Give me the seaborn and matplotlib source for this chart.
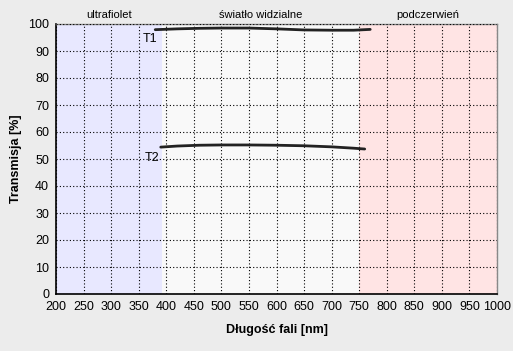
import matplotlib
matplotlib.use("Agg")
import matplotlib.pyplot as plt
import seaborn as sns
import pandas as pd

# Data
t1_wavelength = [380, 420, 460, 500, 550, 600, 650, 700, 740, 770]
t1_values = [97.9, 98.2, 98.4, 98.5, 98.5, 98.2, 97.8, 97.7, 97.7, 98.0]
t2_wavelength = [390, 420, 460, 500, 550, 600, 650, 700, 740, 760]
t2_values = [54.4, 54.8, 55.1, 55.2, 55.2, 55.1, 54.9, 54.5, 54.0, 53.7]
region_names = ["ultrafiolet", "światło widzialne", "podczerwień"]
region_bounds = [(200, 393), (393, 750), (750, 1000)]
region_colors = ["#E8E8FF", "#F9F9F9", "#FFE4E4"]
x_ticks = list(range(200, 1001, 50))
y_ticks = list(range(0, 101, 10))

sns.set_style("white")
plt.rcParams["font.family"] = ["Liberation Sans", "DejaVu Sans"]
plt.rcParams["text.color"] = "black"
plt.rcParams["axes.labelcolor"] = "black"
plt.rcParams["xtick.color"] = "black"
plt.rcParams["ytick.color"] = "black"

fig = plt.figure(figsize=(5.13, 3.51), dpi=100, facecolor="#ECECEC")
ax = fig.add_axes([56/513, 57/351, 441/513, 270/351])
ax.set_facecolor("#F9F9F9")

for (a, b), c in zip(region_bounds, region_colors):
    ax.axvspan(a, b, color=c, zorder=0, lw=0)

df1 = pd.DataFrame({"x": t1_wavelength, "y": t1_values})
df2 = pd.DataFrame({"x": t2_wavelength, "y": t2_values})
sns.lineplot(data=df1, x="x", y="y", ax=ax, color="#222222", lw=2, zorder=5)
sns.lineplot(data=df2, x="x", y="y", ax=ax, color="#222222", lw=2, zorder=5)

ax.text(371, 94.5, "T1", fontsize=9, ha="center", va="center")
ax.text(375, 50.5, "T2", fontsize=9, ha="center", va="center")

ax.set_xlim(200, 1000)
ax.set_ylim(0, 100)
ax.set_xticks(x_ticks)
ax.set_yticks(y_ticks)
ax.tick_params(labelsize=9, direction="inout", length=6, width=1, color="black", pad=2)
ax.grid(True, color="black", linestyle=(0, (1, 2)), lw=0.8)
ax.set_axisbelow(False)
for s in ["top", "right"]:
    ax.spines[s].set_color("#888888")
    ax.spines[s].set_linewidth(1)
for s in ["left", "bottom"]:
    ax.spines[s].set_color("black")
    ax.spines[s].set_linewidth(1.2)

for name, (a, b) in zip(region_names, region_bounds):
    ax.text((a + b) / 2, 101.5, name, fontsize=8, ha="center", va="bottom")

ax.set_xlabel("Długość fali [nm]", fontsize=9, fontweight="bold", labelpad=8)
ax.set_ylabel("Transmisja [%]", fontsize=9, fontweight="bold", labelpad=4)

fig.savefig("out.png", dpi=100, facecolor=fig.get_facecolor())
